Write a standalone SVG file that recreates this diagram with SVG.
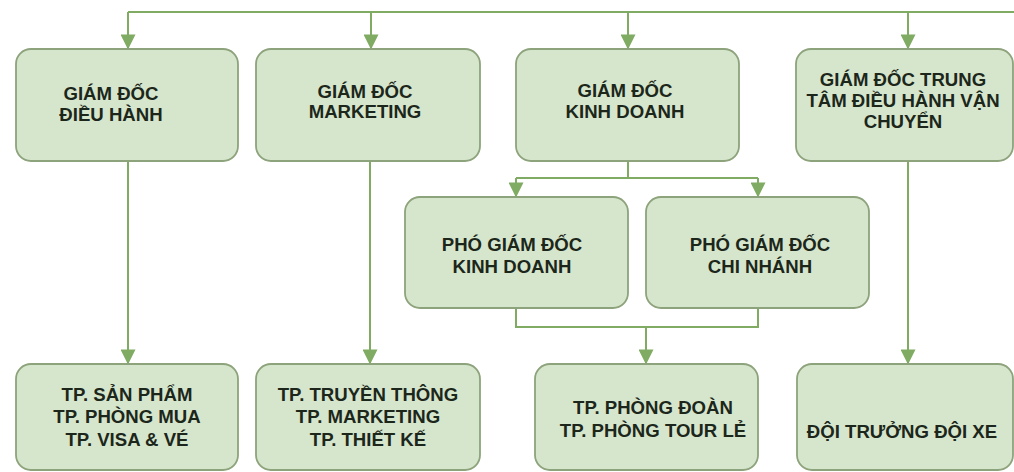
<svg xmlns="http://www.w3.org/2000/svg" width="1014" height="472" viewBox="0 0 1014 472">
<style>
.box{fill:#d6e6cc;stroke:#8da37c;stroke-width:1.8}
.t{font-family:"Liberation Sans",Arial,sans-serif;font-weight:bold;font-size:18.6px;fill:#1c261a;text-anchor:middle}
.c{fill:none;stroke:#7fac62;stroke-width:2}
</style>
<defs>
<marker id="ah" viewBox="0 0 10 10" refX="9" refY="5" markerWidth="16" markerHeight="15" markerUnits="userSpaceOnUse" orient="auto">
<path d="M0,0 L10,5 L0,10 Z" fill="#7fac62"/>
</marker>
</defs>
<rect width="1014" height="472" fill="#ffffff"/>
<g id="connectors">
<path class="c" d="M128,12 H1014"/>
<path class="c" d="M128,12 V48" marker-end="url(#ah)"/>
<path class="c" d="M371,12 V48" marker-end="url(#ah)"/>
<path class="c" d="M628,12 V48" marker-end="url(#ah)"/>
<path class="c" d="M908,12 V48" marker-end="url(#ah)"/>
<path class="c" d="M128,161 V363" marker-end="url(#ah)"/>
<path class="c" d="M370,161 V363" marker-end="url(#ah)"/>
<path class="c" d="M908,161 V363" marker-end="url(#ah)"/>
<path class="c" d="M628,161 V178 M516,178 H758"/>
<path class="c" d="M516,178 V196" marker-end="url(#ah)"/>
<path class="c" d="M758,178 V196" marker-end="url(#ah)"/>
<path class="c" d="M516,308 V327 H758 V308"/>
<path class="c" d="M646,327 V363" marker-end="url(#ah)"/>
</g>
<g id="n1"><rect class="box" x="16" y="49" width="222" height="112" rx="15"/>
<text class="t"><tspan x="111" y="100">GIÁM ĐỐC</tspan><tspan x="111" y="121">ĐIỀU HÀNH</tspan></text></g>
<g id="n2"><rect class="box" x="256" y="49" width="224" height="112" rx="15"/>
<text class="t"><tspan x="365" y="98">GIÁM ĐỐC</tspan><tspan x="365" y="118">MARKETING</tspan></text></g>
<g id="n3"><rect class="box" x="516" y="49" width="223" height="112" rx="15"/>
<text class="t"><tspan x="625" y="97">GIÁM ĐỐC</tspan><tspan x="625" y="118">KINH DOANH</tspan></text></g>
<g id="n4"><rect class="box" x="796" y="49" width="217" height="112" rx="15"/>
<text class="t"><tspan x="903" y="86">GIÁM ĐỐC TRUNG</tspan><tspan x="903" y="107">TÂM ĐIỀU HÀNH VẬN</tspan><tspan x="903" y="128">CHUYỂN</tspan></text></g>
<g id="n5"><rect class="box" x="405" y="197" width="223" height="111" rx="15"/>
<text class="t"><tspan x="512" y="251">PHÓ GIÁM ĐỐC</tspan><tspan x="512" y="273">KINH DOANH</tspan></text></g>
<g id="n6"><rect class="box" x="646" y="197" width="223" height="111" rx="15"/>
<text class="t"><tspan x="760" y="251">PHÓ GIÁM ĐỐC</tspan><tspan x="760" y="273">CHI NHÁNH</tspan></text></g>
<g id="n7"><rect class="box" x="16" y="364" width="222" height="106" rx="15"/>
<text class="t"><tspan x="127" y="401">TP. SẢN PHẨM</tspan><tspan x="127" y="423">TP. PHÒNG MUA</tspan><tspan x="127" y="446">TP. VISA &amp; VÉ</tspan></text></g>
<g id="n8"><rect class="box" x="256" y="364" width="224" height="106" rx="15"/>
<text class="t"><tspan x="368" y="401">TP. TRUYỀN THÔNG</tspan><tspan x="368" y="423">TP. MARKETING</tspan><tspan x="368" y="446">TP. THIẾT KẾ</tspan></text></g>
<g id="n9"><rect class="box" x="535" y="364" width="223" height="106" rx="15"/>
<text class="t"><tspan x="653" y="414">TP. PHÒNG ĐOÀN</tspan><tspan x="653" y="437">TP. PHÒNG TOUR LẺ</tspan></text></g>
<g id="n10"><rect class="box" x="797" y="364" width="216" height="106" rx="15"/>
<text class="t"><tspan x="902" y="438">ĐỘI TRƯỞNG ĐỘI XE</tspan></text></g>
</svg>
